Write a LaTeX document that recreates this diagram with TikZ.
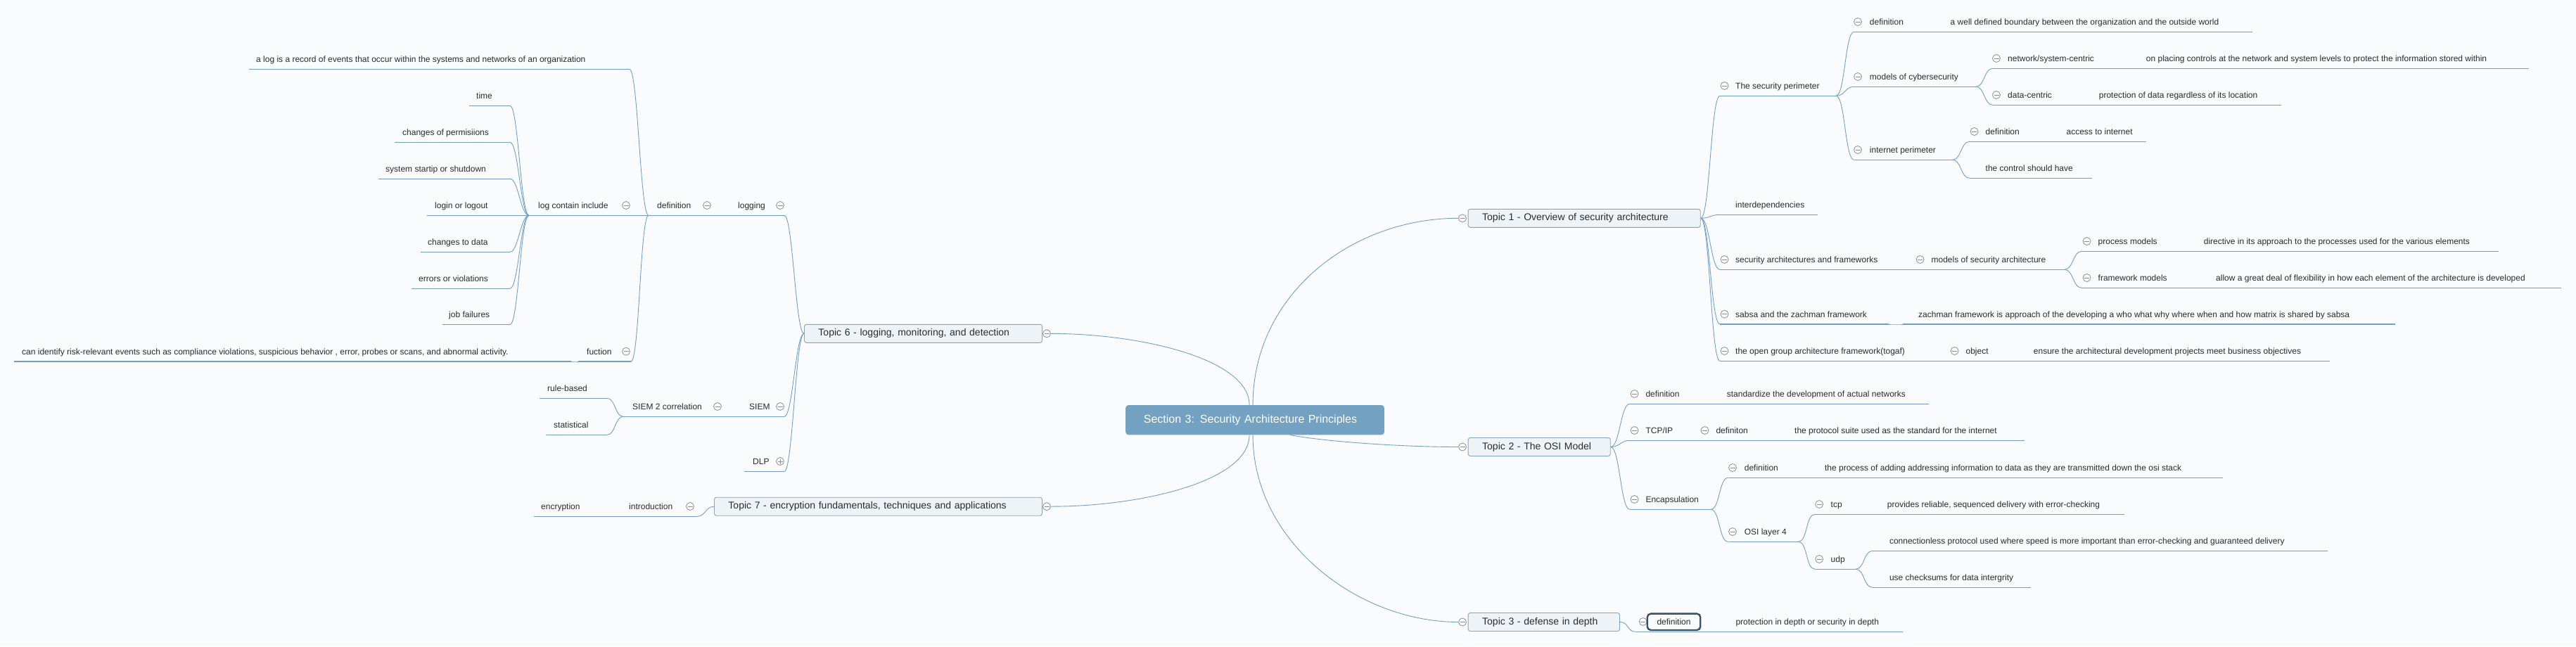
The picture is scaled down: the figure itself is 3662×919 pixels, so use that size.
\documentclass[tikz,border=0pt]{standalone}
\usepackage{fontspec}
\setmainfont{Liberation Sans}
\usepackage{tikz}

\definecolor{linkblue}{HTML}{72A0C3}
\definecolor{rootblue}{HTML}{73A1C1}
\definecolor{topicfill}{HTML}{EEF3F7}
\definecolor{topicline}{HTML}{7DA6C7}
\definecolor{icongray}{HTML}{8E8E8E}
\definecolor{textgray}{HTML}{2B2B2B}
\definecolor{pagebg}{HTML}{FAFBFC}
\definecolor{selectline}{HTML}{3A5068}

\begin{document}
\begin{tikzpicture}
[x=1pt,y=-1pt,
  linedecorate/.style={-,linkblue,line width=0.9pt},%
  underdecorate/.style={-,linkblue,line width=1.3pt},%
  leafdecorate/.style={inner sep=0pt,anchor=base west,text=textgray,
    font=\fontsize{12}{14}\selectfont},%
  topicdecorate/.style={draw=topicline,fill=topicfill,line width=0.9pt,
    rounded corners=3pt,anchor=west,minimum height=26pt,inner xsep=20pt,
    inner ysep=0pt,align=left,text=textgray,font=\fontsize{14}{16}\selectfont},%
  rootdecorate/.style={fill=rootblue,rounded corners=4pt,anchor=west,
    minimum height=42.3pt,inner xsep=25.7pt,inner ysep=0pt,align=left,
    text=white,font=\fontsize{16}{18}\selectfont},%
  icondecorate/.style={circle,draw=icongray,fill=pagebg,line width=0.8pt,
    minimum size=11pt,inner sep=0pt},%
  minusdecorate/.style={icondecorate,path picture={
    \draw[icongray,line width=0.8pt]
      ([xshift=2pt]path picture bounding box.west) --
      ([xshift=-2pt]path picture bounding box.east);}},%
  plusdecorate/.style={icondecorate,path picture={
    \draw[icongray,line width=0.8pt]
      ([xshift=2pt]path picture bounding box.west) --
      ([xshift=-2pt]path picture bounding box.east)
      ([yshift=-2pt]path picture bounding box.north) --
      ([yshift=2pt]path picture bounding box.south);}}]
%%
%% Canvas
\useasboundingbox (0,0) rectangle (3662,919);
\fill[pagebg] (0,0) rectangle (3662,919);
%%
%% Macros
%% Leaf: name, left end, right end, line y, text x, text
\def\leaf#1#2#3#4#5#6{%
  \coordinate (#1-l) at (#2,#4);
  \coordinate (#1-r) at (#3,#4);
  \draw[underdecorate] (#1-l) -- (#1-r);
  \node (#1) at (#5,#4-10) [leafdecorate] {#6};
}
%%
%% Root and topics
\node (root) at (1600,597.2) [rootdecorate,text width=316.3pt]
  {Section 3: Security Architecture Principles};
\node (t1) at (2086.7,310.3) [topicdecorate,text width=290.1pt]
  {Topic 1 - Overview of security architecture};
\node (t2) at (2086.7,635.5) [topicdecorate,text width=162.1pt]
  {Topic 2 - The OSI Model};
\node (t3) at (2086.7,884.5) [topicdecorate,text width=175.3pt]
  {Topic 3 - defense in depth};
\node (t6) at (1143,474.3) [topicdecorate,text width=298pt]
  {Topic 6 - logging, monitoring, and detection};
\node (t7) at (1015,720.2) [topicdecorate,text width=426pt]
  {Topic 7 - encryption fundamentals, techniques and applications};
\foreach \nodename in {t1,t2,t3} {
  \coordinate (\nodename-r) at (\nodename.east);
}
\foreach \nodename in {t6,t7} {
  \coordinate (\nodename-l) at (\nodename.west);
}
%%
%% Topic 1
\leaf{secper}{2445}{2610}{136.3}{2467}{The security perimeter}
\leaf{interdep}{2445}{2584}{305.3}{2467}{interdependencies}
\leaf{secarch}{2445}{2700}{383.3}{2467}{security architectures and frameworks}
\leaf{sabsa}{2445}{2685}{461}{2467}{sabsa and the zachman framework}
\leaf{togaf}{2445}{2755}{513.3}{2467}{the open group architecture framework(togaf)}
\leaf{spdef}{2635.7}{2738}{45.3}{2657.7}{definition}
\leaf{spdefv}{2750}{3202.4}{45.3}{2772.5}{a well defined boundary between the organization and the outside world}
\leaf{modcyber}{2635.7}{2808.7}{123.3}{2657.7}{models of cybersecurity}
\leaf{inetper}{2635.7}{2775.5}{227.3}{2657.7}{internet perimeter}
\leaf{netcen}{2833}{3010}{97.3}{2854}{network/system-centric}
\leaf{netcenv}{3030}{3595.4}{97.3}{3050.7}{on placing controls at the network and system levels to protect the information stored within}
\leaf{datacen}{2833}{2950}{149.3}{2854}{data-centric}
\leaf{datacenv}{2962}{3242.5}{149.3}{2983.6}{protection of data regardless of its location}
\leaf{ipdef}{2800}{2905}{201.3}{2822.5}{definition}
\leaf{ipdefv}{2915}{3051.2}{201.3}{2937.4}{access to internet}
\leaf{ipctrl}{2800}{2973.7}{253.3}{2822.5}{the control should have}
\leaf{modsec}{2723}{2934.7}{383.3}{2745.4}{models of security architecture}
\leaf{procmod}{2959.4}{3100}{357.3}{2982.5}{process models}
\leaf{procmodv}{3110}{3552}{357.3}{3132.6}{directive in its approach to the processes used for the various elements}
\leaf{frammod}{2959.4}{3115}{409.3}{2982.5}{framework models}
\leaf{frammodv}{3128}{3641}{409.3}{3150}{allow a great deal of flexibility in how each element of the architecture is developed}
\leaf{zachman}{2705}{3404.7}{461}{2727}{zachman framework is approach of the developing a who what why where when and how matrix is shared by sabsa}
\leaf{object}{2772}{2860}{513.3}{2794.4}{object}
\leaf{objectv}{2870}{3312.3}{513.3}{2890.7}{ensure the architectural development projects meet business objectives}
%%
%% Topic 2
\leaf{osidef}{2316.8}{2420}{574.3}{2339.3}{definition}
\leaf{osidefv}{2432}{2741.8}{574.3}{2454.6}{standardize the development of actual networks}
\leaf{tcpip}{2316.8}{2400}{626.3}{2339.3}{TCP/IP}
\leaf{tcpdef}{2417}{2520}{626.3}{2439.3}{definiton}
\leaf{tcpdefv}{2530}{2878}{626.3}{2551}{the protocol suite used as the standard for the internet}
\leaf{encap}{2316.8}{2432}{724.3}{2339.3}{Encapsulation}
\leaf{encdef}{2456.6}{2560}{679.3}{2479.6}{definition}
\leaf{encdefv}{2572}{3159.5}{679.3}{2593.9}{the process of adding addressing information to data as they are transmitted down the osi stack}
\leaf{osil4}{2456.6}{2556.6}{770.3}{2479.6}{OSI layer 4}
\leaf{tcp}{2580}{2650}{731.3}{2602.5}{tcp}
\leaf{tcpv}{2660}{3019.9}{731.3}{2682.7}{provides reliable, sequenced delivery with error-checking}
\leaf{udp}{2580}{2637.8}{809.3}{2602.5}{udp}
\leaf{udpa}{2662}{3308.5}{783.3}{2685.8}{connectionless protocol used where speed is more important than error-checking and guaranteed delivery}
\leaf{udpb}{2662}{2886.9}{835.3}{2685.8}{use checksums for data intergrity}
%%
%% Topic 3
\coordinate (dddef-l) at (2325.5,898.3);
\coordinate (dddef-r) at (2440,898.3);
\draw[underdecorate] (dddef-l) -- (dddef-r);
\leaf{dddefv}{2445}{2704.6}{898.3}{2467.3}{protection in depth or security in depth}
%%
%% Topic 6
\leaf{logging}{1037}{1115}{306.3}{1049}{logging}
\leaf{siem}{1052}{1115}{592.3}{1065}{SIEM}
\leaf{dlp}{1058}{1115}{670.3}{1070}{DLP}
\leaf{logdef}{922}{1015}{306.3}{934}{definition}
\leaf{logrec}{354}{895}{98.7}{364}{a log is a record of events that occur within the systems and networks of an organization}
\leaf{logcont}{752}{897}{306.3}{765}{log contain include}
\leaf{fuction}{822}{897}{514}{834}{fuction}
\leaf{fuctionv}{20}{812}{514}{31}{can identify risk-relevant events such as compliance violations, suspicious behavior , error, probes or scans, and abnormal activity.}
\leaf{time}{667}{725}{150.3}{677}{time}
\leaf{perm}{561}{725}{202.3}{572}{changes of permisiions}
\leaf{startup}{538}{725}{254.3}{548}{system startip or shutdown}
\leaf{login}{607}{725}{306.3}{618}{login or logout}
\leaf{chdata}{598}{725}{358.3}{608}{changes to data}
\leaf{errors}{585}{725}{410.3}{595}{errors or violations}
\leaf{jobs}{629}{725}{461.7}{638}{job failures}
\leaf{siemcor}{886}{1035}{592.3}{899}{SIEM 2 correlation}
\leaf{rule}{767}{863}{566.3}{778}{rule-based}
\leaf{stat}{776}{863}{618.3}{787}{statistical}
%%
%% Topic 7
\leaf{intro}{882}{991}{734.3}{894}{introduction}
\leaf{encr}{759}{870}{734.3}{769}{encryption}
%%
%% Branches to the right
\foreach \startnode/\endnode in {
    t1/secper, t1/interdep, t1/secarch, t1/sabsa, t1/togaf,
    secper/spdef, secper/modcyber, secper/inetper, spdef/spdefv,
    modcyber/netcen, modcyber/datacen, netcen/netcenv, datacen/datacenv,
    inetper/ipdef, inetper/ipctrl, ipdef/ipdefv,
    secarch/modsec, modsec/procmod, modsec/frammod,
    procmod/procmodv, frammod/frammodv,
    sabsa/zachman, togaf/object, object/objectv,
    t2/osidef, t2/tcpip, t2/encap, osidef/osidefv, tcpip/tcpdef,
    tcpdef/tcpdefv, encap/encdef, encap/osil4, encdef/encdefv,
    osil4/tcp, osil4/udp, tcp/tcpv, udp/udpa, udp/udpb,
    t3/dddef, dddef/dddefv} {
  \draw[linedecorate] (\startnode-r) .. controls +(13,0) and +(-13,0) .. (\endnode-l);
}
%% Branches to the left
\foreach \startnode/\endnode in {
    t6/logging, t6/siem, t6/dlp, logging/logdef,
    logdef/logrec, logdef/logcont, logdef/fuction, fuction/fuctionv,
    logcont/time, logcont/perm, logcont/startup, logcont/login,
    logcont/chdata, logcont/errors, logcont/jobs,
    siem/siemcor, siemcor/rule, siemcor/stat,
    t7/intro, intro/encr} {
  \draw[linedecorate] (\startnode-l) .. controls +(-12,0) and +(12,0) .. (\endnode-r);
}
%%
%% Collapse icons
\foreach \nodename/\x/\y in {
    secper/2451.5/136.3, secarch/2451.5/383.3, sabsa/2451.5/461,
    togaf/2451.5/513.3, spdef/2641/45.3, modcyber/2641/123.3,
    inetper/2641/227.3, netcen/2838/97.3, datacen/2838/149.3,
    ipdef/2806.6/201.3, modsec/2729.6/383.3, procmod/2966.6/357.3,
    frammod/2966.6/409.3, object/2778.6/513.3,
    osidef/2323.5/574.3, tcpip/2323.5/626.3, tcpdef/2423.5/626.3,
    encap/2323.5/724.3, encdef/2463/679.3, osil4/2463/770.3,
    tcp/2586.2/731.3, udp/2586.2/809.3, dddef/2335.7/898.3,
    logging/1109/306.3, siem/1109/592.3, logdef/1005/306.3,
    logcont/890/306.3, fuction/890/514, siemcor/1020/592.3,
    intro/981/734.3} {
  \node (\nodename-i) at (\x,\y-14.3) [minusdecorate] {};
}
\node (dlp-i) at (1109,656) [plusdecorate] {};
\foreach \nodename/\x/\y in {
    t1/2079/310.3, t2/2079/635.5, t3/2079/884.5,
    t6/1488/474.3, t7/1488/720.2} {
  \node (\nodename-i) at (\x,\y) [minusdecorate] {};
}
%%
%% Selected node of topic 3
\node (dddef) at (2379.5,884.3) [draw=selectline,line width=2.4pt,
  rounded corners=5pt,fill=pagebg,minimum width=75.5pt,minimum height=23.3pt,
  inner sep=0pt,text=textgray,font=\fontsize{12}{14}\selectfont] {definition};
%%
%% Root to topics
\draw[linedecorate] ([xshift=-3pt]root.north) .. controls (1781,420) and (1920,310.3) .. (t1-i.west);
\draw[linedecorate] ([xshift=50pt]root.south) .. controls (1885,628) and (1990,635.5) .. (t2-i.west);
\draw[linedecorate] ([xshift=-3pt]root.south) .. controls (1781,770) and (1930,884.5) .. (t3-i.west);
\draw[linedecorate] ([xshift=-8pt]root.north) .. controls (1776,510) and (1620,474.3) .. (t6-i.east);
\draw[linedecorate] ([xshift=-8pt]root.south) .. controls (1776,685) and (1620,720.2) .. (t7-i.east);
\end{tikzpicture}
\end{document}
